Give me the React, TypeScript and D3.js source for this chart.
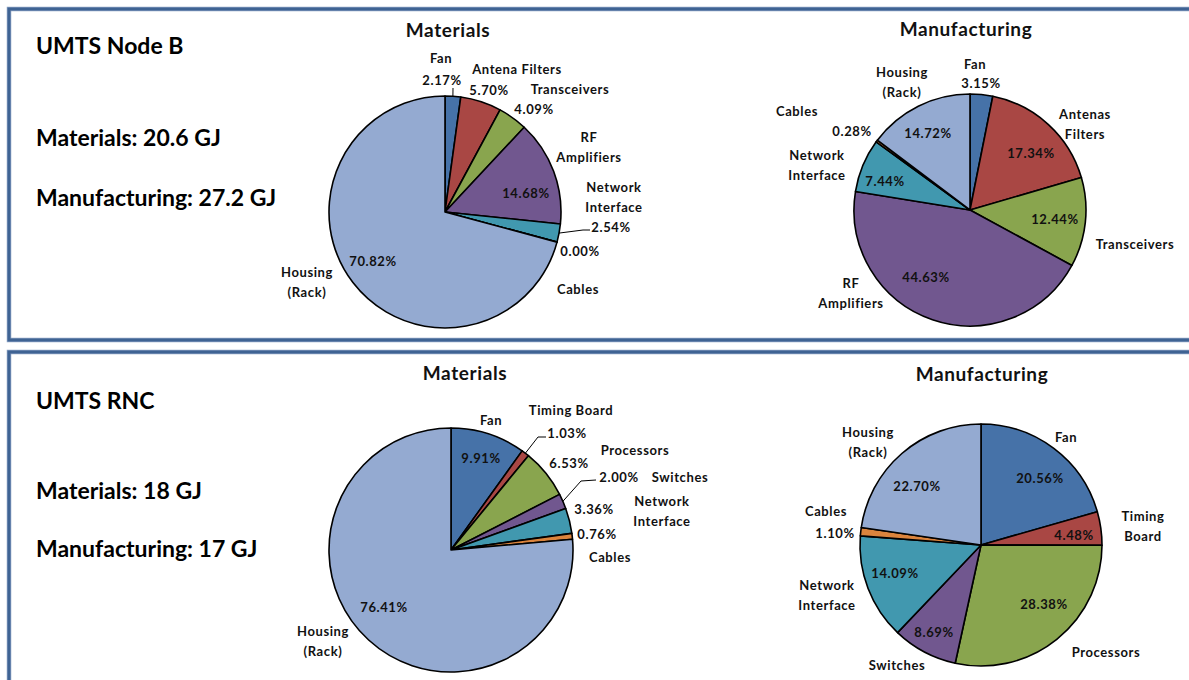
import * as d3 from "d3";

// ---- data ----
const nodeBMaterialLabels = [["Fan"], ["Antena Filters"], ["Transceivers"], ["RF", "Amplifiers"], ["Network", "Interface"], ["Cables"], ["Housing", "(Rack)"]];
const nodeBMaterialValues = [2.17, 5.7, 4.09, 14.68, 2.54, 0.0, 70.82];

const nodeBMfgLabels = [["Fan"], ["Antenas", "Filters"], ["Transceivers"], ["RF", "Amplifiers"], ["Network", "Interface"], ["Cables"], ["Housing", "(Rack)"]];
const nodeBMfgValues = [3.15, 17.34, 12.44, 44.63, 7.44, 0.28, 14.72];

const rncMaterialLabels = [["Fan"], ["Timing Board"], ["Processors"], ["Switches"], ["Network", "Interface"], ["Cables"], ["Housing", "(Rack)"]];
const rncMaterialValues = [9.91, 1.03, 6.53, 2.0, 3.36, 0.76, 76.41];

const rncMfgLabels = [["Fan"], ["Timing", "Board"], ["Processors"], ["Switches"], ["Network", "Interface"], ["Cables"], ["Housing", "(Rack)"]];
const rncMfgValues = [20.56, 4.48, 28.38, 8.69, 14.09, 1.1, 22.7];

const COLORS = ["#4672A8", "#A94744", "#89A54E", "#71578F", "#4198AF", "#DB843D", "#94AAD1"];

// label placement (offsets from pie centre): name, pct, optional leader points
type Place = { n: [number, number]; p: [number, number]; lead?: [number, number][] };

const nodeBMaterialPlace: Place[] = [
  { n: [-4, -154], p: [-3, -132], lead: [[8, -124]] },
  { n: [72, -143], p: [44, -122] },
  { n: [125, -123], p: [89, -103] },
  { n: [144, -75], p: [81, -19] },
  { n: [169, -25], p: [166, 15], lead: [[138, 18], [145, 18]] },
  { n: [133, 77], p: [135, 39] },
  { n: [-138, 60], p: [-72, 49] },
];
const nodeBMfgPlace: Place[] = [
  { n: [5, -146], p: [11, -127] },
  { n: [115, -96], p: [61, -57] },
  { n: [165, 34], p: [85, 9] },
  { n: [-119, 73], p: [-44, 67] },
  { n: [-153, -55], p: [-85, -29] },
  { n: [-173, -99], p: [-118, -79] },
  { n: [-68, -138], p: [-42, -77] },
];
const rncMaterialPlace: Place[] = [
  { n: [40, -130], p: [30, -92] },
  { n: [120, -140], p: [116, -117], lead: [[87, -113], [95, -113]] },
  { n: [184, -100], p: [118, -87] },
  { n: [229, -73], p: [168, -73], lead: [[130, -69], [145, -70]] },
  { n: [211, -49], p: [143, -41] },
  { n: [159, 7], p: [146, -16] },
  { n: [-128, 81], p: [-67, 57] },
];
const rncMfgPlace: Place[] = [
  { n: [85, -108], p: [59, -67] },
  { n: [162, -29], p: [93, -10] },
  { n: [125, 107], p: [63, 59] },
  { n: [-84, 120], p: [-47, 87] },
  { n: [-154, 40], p: [-86, 28] },
  { n: [-155, -34], p: [-146, -12] },
  { n: [-113, -113], p: [-64, -59] },
];

const FONT = "Lato, 'Open Sans', sans-serif";

function Pie({ cx, cy, r, values, labels, place, title, titleX, titleY }: {
  cx: number; cy: number; r: number; values: number[]; labels: string[][]; place: Place[];
  title: string; titleX: number; titleY: number;
}) {
  const pie = d3.pie<number>().sort(null).value((d) => d)(values);
  const arc = d3.arc<d3.PieArcDatum<number>>().innerRadius(0).outerRadius(r);
  const line = d3.line();
  return (
    <g>
      <text x={titleX} y={titleY} textAnchor="middle" dominantBaseline="central" fontSize={19} letterSpacing={0.6} fontWeight="bold" fontFamily={FONT} fill="#111">
        {title}
      </text>
      <g transform={`translate(${cx},${cy})`}>
        {pie.map((s, i) => (
          <path key={i} d={arc(s) ?? ""} fill={COLORS[i]} stroke="#000" strokeWidth={1.6} strokeLinejoin="round" />
        ))}
        {pie.map((s, i) => {
          const pl = place[i];
          if (!pl.lead) return null;
          const a = (s.startAngle + s.endAngle) / 2;
          const start: [number, number] = [r * Math.sin(a), -r * Math.cos(a)];
          return <path key={"l" + i} d={line([start, ...pl.lead]) ?? ""} fill="none" stroke="#000" strokeWidth={1} />;
        })}
        {pie.map((s, i) => {
          const pl = place[i];
          return (
            <g key={"t" + i} fontFamily={FONT} fontWeight="bold" fontSize={13} letterSpacing={0.6} fill="#111" textAnchor="middle">
              {labels[i].map((ln, j) => (
                <text key={j} x={pl.n[0]} y={pl.n[1] + j * 20} dominantBaseline="central">{ln}</text>
              ))}
              <text x={pl.p[0]} y={pl.p[1]} dominantBaseline="central">{`${s.data.toFixed(2)}%`}</text>
            </g>
          );
        })}
      </g>
    </g>
  );
}

export default function App() {
  const big = { fontFamily: FONT, fontWeight: "bold" as const, fontSize: 23, fill: "#000" };
  return (
    <svg width={1189} height={680} style={{ position: "absolute", left: 0, top: 0, background: "#fff" }}>
      <rect x={0} y={0} width={1189} height={680} fill="#fff" />
      {/* panel frames */}
      <rect x={9} y={9} width={1300} height={331} fill="none" stroke="#8DA3C4" strokeWidth={4.5} />
      <rect x={9} y={9} width={1300} height={331} fill="none" stroke="#3F6393" strokeWidth={3} />
      <rect x={9} y={352} width={1300} height={400} fill="none" stroke="#8DA3C4" strokeWidth={4.5} />
      <rect x={9} y={352} width={1300} height={400} fill="none" stroke="#3F6393" strokeWidth={3} />

      <text x={36} y={45} dominantBaseline="central" {...big}>UMTS Node B</text>
      <text x={36} y={137} dominantBaseline="central" {...big}>Materials: 20.6 GJ</text>
      <text x={36} y={197} dominantBaseline="central" {...big}>Manufacturing: 27.2 GJ</text>
      <text x={36} y={400} dominantBaseline="central" {...big}>UMTS RNC</text>
      <text x={36} y={490} dominantBaseline="central" {...big}>Materials: 18 GJ</text>
      <text x={36} y={548} dominantBaseline="central" {...big}>Manufacturing: 17 GJ</text>

      <Pie cx={445} cy={212} r={116} values={nodeBMaterialValues} labels={nodeBMaterialLabels} place={nodeBMaterialPlace} title="Materials" titleX={448} titleY={29} />
      <Pie cx={970} cy={210} r={116} values={nodeBMfgValues} labels={nodeBMfgLabels} place={nodeBMfgPlace} title="Manufacturing" titleX={966} titleY={28} />
      <Pie cx={451} cy={550} r={122} values={rncMaterialValues} labels={rncMaterialLabels} place={rncMaterialPlace} title="Materials" titleX={465} titleY={372} />
      <Pie cx={981} cy={545} r={121} values={rncMfgValues} labels={rncMfgLabels} place={rncMfgPlace} title="Manufacturing" titleX={982} titleY={373} />
    </svg>
  );
}
